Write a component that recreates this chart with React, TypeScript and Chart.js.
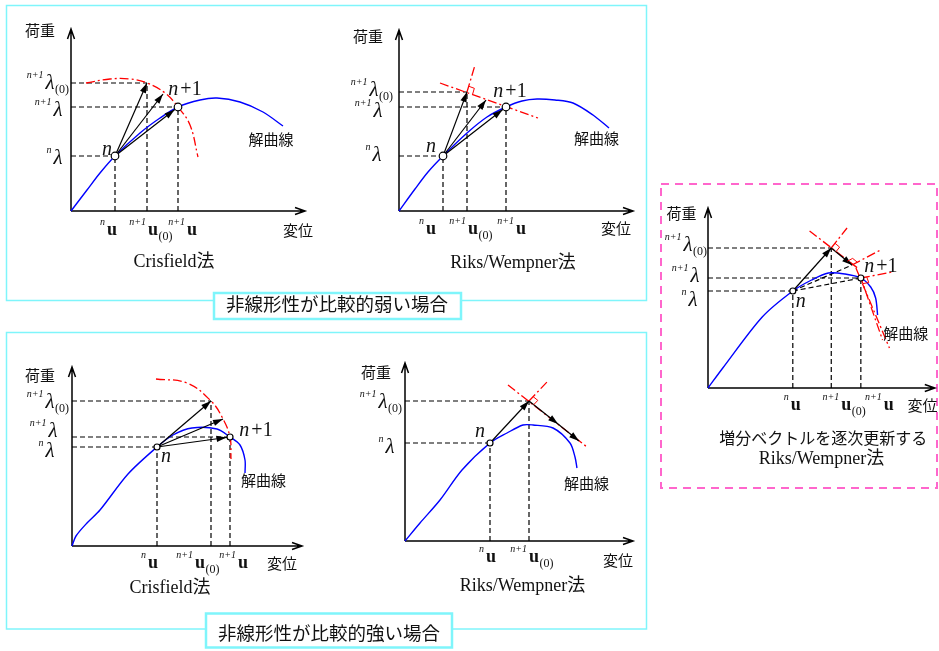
import { useEffect, useRef } from "react";
import { Chart, registerables } from "chart.js";

Chart.register(...registerables);

type P = [number, number];

const PAGE_W = 939;
const PAGE_H = 651;

const SERIF = '"Liberation Serif", "Times New Roman", serif';
const GOTHIC = '"Noto Sans CJK JP", "Noto Sans", sans-serif';
const MIXED = '"Liberation Serif", "Noto Sans CJK JP", serif';

const BLUE = "#0000ff";
const RED = "#ff0000";
const CYAN = "#7ff5fb";
const PINK = "#ff66cc";
const INK = "#111111";

// ---- text ----
const axisNames = ["荷重", "変位"];
const curveName = "解曲線";
const caseNames = ["非線形性が比較的弱い場合", "非線形性が比較的強い場合"];
const methodNames = ["Crisfield法", "Riks/Wempner法"];
const updateNote = "増分ベクトルを逐次更新する";
const stepNames = ["n", "n+1"];

// tick symbols: [superscript, symbol, subscript], ordered n, predictor, n+1
const uTicks = [
  ["n", "u", ""],
  ["n+1", "u", "(0)"],
  ["n+1", "u", ""],
];
const lambdaTicks = [
  ["n", "λ", ""],
  ["n+1", "λ", "(0)"],
  ["n+1", "λ", ""],
];

// ---- weak nonlinearity, Crisfield (arc-length circle) ----
const weakCrisCurve: P[] = [[0, 0], [1.6, 2.1], [2.9, 3.8], [4.4, 5.5], [6.9, 7.8], [8.9, 9.3], [10.7, 10.4], [12.9, 11.1], [14.6, 11.3], [16.9, 10.9], [19.2, 9.9], [21.2, 8.5]];
const weakCrisArc: P[] = [[1.5, 12.8], [3.9, 13.2], [5.9, 13.2], [7.6, 12.8], [9.4, 11.8], [10.7, 10.4], [11.9, 8.6], [12.7, 5.4]];
const weakCrisSteps: P[] = [[4.4, 5.5], [10.7, 10.4]];
const weakCrisPredictor: P = [7.6, 12.8];
const weakCrisTrials: P[] = [[7.6, 12.8], [9.2, 11.7], [10.7, 10.4]];

// ---- weak nonlinearity, Riks/Wempner (normal plane) ----
const weakRiksCurve: P[] = [[0, 0], [1.6, 2.2], [2.9, 3.9], [4.4, 5.5], [6.8, 7.8], [8.8, 9.4], [10.7, 10.4], [12.3, 11.0], [13.8, 11.2], [15.6, 11.1], [17.4, 10.8], [19.4, 9.6], [21.0, 8.3]];
const weakRiksSteps: P[] = [[4.4, 5.5], [10.7, 10.4]];
const weakRiksPredictor: P = [6.8, 11.9];
const weakRiksTrials: P[] = [[6.8, 11.9], [8.7, 11.1], [10.7, 10.4]];
const weakRiksPlane: P[] = [[4.1, 12.8], [13.9, 9.3]];
const weakRiksTangent: P[] = [[6.8, 11.9], [7.6, 14.6]];

// ---- strong nonlinearity, Crisfield ----
const strongCrisCurve: P[] = [[0, 0], [0.4, 1.0], [1.5, 2.3], [2.8, 3.6], [5.6, 7.2], [8.5, 9.9], [10.1, 11.1], [12.0, 11.8], [14.5, 11.7], [15.8, 10.9], [16.8, 10.1], [17.3, 8.6], [17.3, 7.3]];
const strongCrisArc: P[] = [[8.4, 16.7], [11.5, 16.3], [13.9, 14.5], [15.0, 12.9], [15.8, 10.9], [15.9, 8.7]];
const strongCrisSteps: P[] = [[8.5, 9.9], [15.8, 10.9]];
const strongCrisPredictor: P = [13.9, 14.5];
const strongCrisTrials: P[] = [[13.9, 14.5], [15.1, 12.7], [15.8, 10.9]];

// ---- strong nonlinearity, Riks/Wempner (diverging) ----
const strongRiksCurve: P[] = [[0, 0], [1.5, 1.8], [3.5, 4.1], [5.7, 7.1], [8.5, 9.8], [10.2, 10.8], [11.8, 11.6], [12.8, 11.6], [14.8, 11.3], [16.5, 9.8], [17.0, 8.4], [17.2, 7.3]];
const strongRiksSteps: P[] = [[8.5, 9.8]];
const strongRiksPredictor: P = [12.4, 14.0];
const strongRiksCorrectors: P[] = [[15.3, 11.7], [17.4, 10.0]];
const strongRiksPlane: P[] = [[10.3, 15.6], [18.2, 9.4]];
const strongRiksTangent: P[] = [[12.4, 14.0], [14.2, 15.9]];

// ---- Riks/Wempner with updated increment vector ----
const incrCurve: P[] = [[0, 0], [1.5, 2.0], [5.5, 7.1], [8.6, 9.7], [10.5, 10.8], [12.2, 11.5], [13.9, 11.4], [15.5, 11.0], [16.5, 10.1], [17.0, 9.0], [17.2, 7.3]];
const incrSteps: P[] = [[8.6, 9.7], [15.5, 11.0]];
const incrPredictor: P = [12.5, 14.0];
const incrCorrector: P = [14.6, 12.3];
const incrPlanes: P[][] = [
  [[10.3, 15.7], [15.3, 11.9]],
  [[12.5, 14.0], [14.1, 16.0]],
  [[14.6, 12.3], [17.5, 13.8]],
  [[15.5, 11.0], [18.7, 11.6]],
  [[15.0, 12.0], [18.4, 4.0]],
  [[15.4, 11.3], [17.7, 4.8]],
];

type Spec = {
  area: { left: number; top: number; width: number; height: number };
  xMax: number;
  yMax: number;
  curve: P[];
  redCurves: P[][];
  redLines: P[][];
  nodes: P[];
  nodeRadius: number;
  arrows: { from: P; to: P; inset: number }[];
  guides: P[];
  dashed: P[][];
  rightAngles: { at: P; a: P; b: P }[];
  xTickDx: number[];
  xTickDy: number;
  yTickDx: number[];
  yTickDy: number[];
  nodeLabelOffsets: P[];
  texts: { t: string; x: number; y: number; font: string }[];
};

const F_CJK = `15px ${GOTHIC}`;
const F_TITLE = `18px ${MIXED}`;
const F_NOTE = `16px ${GOTHIC}`;

const fanFrom = (start: P, ends: P[], inset: number) =>
  ends.map((to, i) => ({ from: start, to, inset: i === ends.length - 1 ? inset : 0 }));

const PANELS: Spec[] = [
  {
    area: { left: 71, top: 29, width: 234, height: 182 },
    xMax: 23.4,
    yMax: 18.2,
    curve: weakCrisCurve,
    redCurves: [weakCrisArc],
    redLines: [],
    nodes: weakCrisSteps,
    nodeRadius: 3.8,
    arrows: fanFrom(weakCrisSteps[0], weakCrisTrials, 4.5),
    guides: [weakCrisSteps[0], weakCrisPredictor, weakCrisSteps[1]],
    dashed: [],
    rightAngles: [],
    xTickDx: [-3, 6, 14],
    xTickDy: 19,
    yTickDx: [-13, -21, -13],
    yTickDy: [2, 0, 3],
    nodeLabelOffsets: [[-8, -6], [7, -17]],
    texts: [
      { t: axisNames[0], x: -3.1, y: 18.1, font: F_CJK },
      { t: axisNames[1], x: 22.7, y: -1.9, font: F_CJK },
      { t: curveName, x: 20.0, y: 7.2, font: F_CJK },
      { t: methodNames[0], x: 10.3, y: -5.1, font: F_TITLE },
    ],
  },
  {
    area: { left: 399, top: 30, width: 234, height: 181 },
    xMax: 23.4,
    yMax: 18.1,
    curve: weakRiksCurve,
    redCurves: [],
    redLines: [weakRiksPlane, weakRiksTangent],
    nodes: weakRiksSteps,
    nodeRadius: 3.8,
    arrows: fanFrom(weakRiksSteps[0], weakRiksTrials, 4.5),
    guides: [weakRiksSteps[0], weakRiksPredictor, weakRiksSteps[1]],
    dashed: [],
    rightAngles: [{ at: weakRiksPredictor, a: weakRiksPlane[1], b: weakRiksTangent[1] }],
    xTickDx: [-12, 6, 15],
    xTickDy: 18,
    yTickDx: [-22, -25, -21],
    yTickDy: [-1, -2, 4],
    nodeLabelOffsets: [[-12, -9], [4, -15]],
    texts: [
      { t: axisNames[0], x: -3.1, y: 17.5, font: F_CJK },
      { t: axisNames[1], x: 21.7, y: -1.7, font: F_CJK },
      { t: curveName, x: 19.75, y: 7.3, font: F_CJK },
      { t: methodNames[1], x: 11.4, y: -5.2, font: F_TITLE },
    ],
  },
  {
    area: { left: 72, top: 367, width: 230, height: 179 },
    xMax: 23.0,
    yMax: 17.9,
    curve: strongCrisCurve,
    redCurves: [strongCrisArc],
    redLines: [],
    nodes: strongCrisSteps,
    nodeRadius: 3,
    arrows: fanFrom(strongCrisSteps[0], strongCrisTrials, 3.5),
    guides: [strongCrisSteps[0], strongCrisPredictor, strongCrisSteps[1]],
    dashed: [],
    rightAngles: [],
    xTickDx: [-4, -11, 13],
    xTickDy: 17,
    yTickDx: [-22, -22, -19],
    yTickDy: [4, 1, -6],
    nodeLabelOffsets: [[9, 10], [26, -6]],
    texts: [
      { t: axisNames[0], x: -3.2, y: 17.1, font: F_CJK },
      { t: axisNames[1], x: 21.0, y: -1.7, font: F_CJK },
      { t: curveName, x: 19.15, y: 6.6, font: F_CJK },
      { t: methodNames[0], x: 9.8, y: -4.2, font: F_TITLE },
    ],
  },
  {
    area: { left: 405, top: 363, width: 228, height: 178 },
    xMax: 22.8,
    yMax: 17.8,
    curve: strongRiksCurve,
    redCurves: [],
    redLines: [strongRiksPlane, strongRiksTangent],
    nodes: strongRiksSteps,
    nodeRadius: 3,
    arrows: [
      { from: strongRiksSteps[0], to: strongRiksPredictor, inset: 0 },
      { from: strongRiksPredictor, to: strongRiksCorrectors[0], inset: 0 },
      { from: strongRiksCorrectors[0], to: strongRiksCorrectors[1], inset: 0 },
    ],
    guides: [strongRiksSteps[0], strongRiksPredictor],
    dashed: [],
    rightAngles: [{ at: strongRiksPredictor, a: strongRiksTangent[1], b: strongRiksCorrectors[0] }],
    xTickDx: [1, 5],
    xTickDy: 16,
    yTickDx: [-15, -22],
    yTickDy: [4, 1],
    nodeLabelOffsets: [[-10, -11]],
    texts: [
      { t: axisNames[0], x: -2.9, y: 16.9, font: F_CJK },
      { t: axisNames[1], x: 21.3, y: -1.9, font: F_CJK },
      { t: curveName, x: 18.15, y: 5.8, font: F_CJK },
      { t: methodNames[1], x: 11.75, y: -4.5, font: F_TITLE },
    ],
  },
  {
    area: { left: 708, top: 208, width: 230, height: 180 },
    xMax: 23.0,
    yMax: 18.0,
    curve: incrCurve,
    redCurves: [],
    redLines: incrPlanes,
    nodes: incrSteps,
    nodeRadius: 3,
    arrows: [
      { from: incrSteps[0], to: incrPredictor, inset: 0 },
      { from: incrPredictor, to: incrCorrector, inset: 0 },
    ],
    guides: [incrSteps[0], incrPredictor, incrSteps[1]],
    dashed: [
      [incrSteps[0], incrCorrector],
      [incrSteps[0], incrSteps[1]],
    ],
    rightAngles: [
      { at: incrPredictor, a: incrPlanes[1][1], b: incrCorrector },
      { at: incrCorrector, a: incrPlanes[2][1], b: incrPredictor },
      { at: incrSteps[1], a: incrPlanes[3][1], b: incrPlanes[5][1] },
    ],
    xTickDx: [3, 15, 28],
    xTickDy: 17,
    yTickDx: [-15, -20, -13],
    yTickDy: [9, -3, -2],
    nodeLabelOffsets: [[8, 11], [20, -11]],
    texts: [
      { t: axisNames[0], x: -2.7, y: 17.5, font: F_CJK },
      { t: axisNames[1], x: 21.75, y: -1.7, font: F_CJK },
      { t: curveName, x: 20.05, y: 5.5, font: F_CJK },
      { t: updateNote, x: 11.7, y: -5.0, font: F_NOTE },
      { t: methodNames[1], x: 11.5, y: -7.1, font: F_TITLE },
    ],
  },
];

// outer frames and case tags (page pixels)
const frameLayout = {
  panels: [
    { x: 6.5, y: 5.5, w: 640, h: 295 },
    { x: 6.5, y: 332.5, w: 640, h: 296.5 },
  ],
  tags: [
    { x: 214, y: 293, w: 247, h: 26, cx: 337, cy: 304 },
    { x: 206, y: 613.5, w: 246, h: 34, cx: 329, cy: 633 },
  ],
  dashed: { x: 661, y: 184, w: 276, h: 304 },
};

const xy = ([x, y]: P) => ({ x, y });

const lineSet = (pts: P[], color: string, width: number, dash: number[], tension = 0) => ({
  data: pts.map(xy),
  showLine: true,
  borderColor: color,
  borderWidth: width,
  borderDash: dash,
  tension,
  pointRadius: 0,
  pointHoverRadius: 0,
  fill: false,
  clip: false,
});

function drawSymbol(ctx: CanvasRenderingContext2D, cx: number, cy: number, parts: string[], mainFont: string) {
  const [pre, main, sub] = parts;
  ctx.font = mainFont;
  const half = ctx.measureText(main).width / 2;
  ctx.textAlign = "center";
  ctx.textBaseline = "middle";
  ctx.fillText(main, cx, cy);
  if (pre) {
    ctx.font = `italic 10px ${SERIF}`;
    ctx.textAlign = "right";
    ctx.fillText(pre, cx - half - 2, cy - 8);
  }
  if (sub) {
    ctx.font = `12px ${SERIF}`;
    ctx.textAlign = "left";
    ctx.fillText(sub, cx + half + 0.5, cy + 7);
  }
}

function drawStep(ctx: CanvasRenderingContext2D, cx: number, cy: number, name: string) {
  ctx.textBaseline = "middle";
  ctx.textAlign = "left";
  const italic = `italic 20px ${SERIF}`;
  const upright = `20px ${SERIF}`;
  const head = name.charAt(0);
  const tail = name.slice(1);
  ctx.font = italic;
  const wn = ctx.measureText(head).width;
  ctx.font = upright;
  const wt = tail ? ctx.measureText(tail).width + 2 : 0;
  const start = cx - (wn + wt) / 2;
  ctx.font = italic;
  ctx.fillText(head, start, cy);
  if (tail) {
    ctx.font = upright;
    ctx.fillText(tail, start + wn + 2, cy);
  }
}

const framesPlugin = {
  id: "frames",
  beforeDraw(chart: any) {
    const ctx: CanvasRenderingContext2D = chart.ctx;
    ctx.save();
    ctx.strokeStyle = CYAN;
    ctx.lineWidth = 1.5;
    frameLayout.panels.forEach((b) => ctx.strokeRect(b.x, b.y, b.w, b.h));
    frameLayout.tags.forEach((b, i) => {
      ctx.fillStyle = "#ffffff";
      ctx.fillRect(b.x, b.y, b.w, b.h);
      ctx.lineWidth = 2.5;
      ctx.strokeRect(b.x, b.y, b.w, b.h);
      ctx.fillStyle = INK;
      ctx.font = `18.5px ${GOTHIC}`;
      ctx.textAlign = "center";
      ctx.textBaseline = "middle";
      ctx.fillText(caseNames[i], b.cx, b.cy);
    });
    const d = frameLayout.dashed;
    ctx.strokeStyle = PINK;
    ctx.lineWidth = 2;
    ctx.setLineDash([8, 6]);
    ctx.strokeRect(d.x, d.y, d.w, d.h);
    ctx.restore();
  },
};

const diagramPlugin = (spec: Spec) => ({
  id: "diagram",
  beforeDatasetsDraw(chart: any) {
    const ctx: CanvasRenderingContext2D = chart.ctx;
    const { x, y } = chart.scales;
    const x0 = x.getPixelForValue(0);
    const y0 = y.getPixelForValue(0);
    const xt = x.getPixelForValue(spec.xMax);
    const yt = y.getPixelForValue(spec.yMax);
    ctx.save();
    ctx.strokeStyle = "#000";
    ctx.lineWidth = 1.5;
    ctx.beginPath();
    ctx.moveTo(x0, y0);
    ctx.lineTo(x0, yt);
    ctx.moveTo(x0, y0);
    ctx.lineTo(xt, y0);
    ctx.moveTo(x0 - 3.5, yt + 10);
    ctx.lineTo(x0, yt);
    ctx.lineTo(x0 + 3.5, yt + 10);
    ctx.moveTo(xt - 10, y0 - 3.5);
    ctx.lineTo(xt, y0);
    ctx.lineTo(xt - 10, y0 + 3.5);
    ctx.stroke();
    ctx.restore();
  },
  afterDatasetsDraw(chart: any) {
    const ctx: CanvasRenderingContext2D = chart.ctx;
    const { x, y } = chart.scales;
    const px = (p: P) => [x.getPixelForValue(p[0]), y.getPixelForValue(p[1])];
    const x0 = x.getPixelForValue(0);
    const y0 = y.getPixelForValue(0);
    ctx.save();

    // arrowheads
    chart.data.datasets.forEach((ds: any, i: number) => {
      if (ds.arrowInset === undefined) return;
      const pts = chart.getDatasetMeta(i).data;
      const a = pts[0];
      const b = pts[1];
      const dx = b.x - a.x;
      const dy = b.y - a.y;
      const len = Math.hypot(dx, dy);
      const ux = dx / len;
      const uy = dy / len;
      const tx = b.x - ux * ds.arrowInset;
      const ty = b.y - uy * ds.arrowInset;
      const L = 10;
      const W = 3.2;
      ctx.fillStyle = "#000";
      ctx.beginPath();
      ctx.moveTo(tx, ty);
      ctx.lineTo(tx - ux * L - uy * W, ty - uy * L + ux * W);
      ctx.lineTo(tx - ux * L + uy * W, ty - uy * L - ux * W);
      ctx.closePath();
      ctx.fill();
    });

    // right-angle marks
    ctx.strokeStyle = RED;
    ctx.lineWidth = 1;
    spec.rightAngles.forEach(({ at, a, b }) => {
      const [cx, cy] = px(at);
      const [ax, ay] = px(a);
      const [bx, by] = px(b);
      const la = Math.hypot(ax - cx, ay - cy);
      const lb = Math.hypot(bx - cx, by - cy);
      const s = 6;
      const ua = [((ax - cx) / la) * s, ((ay - cy) / la) * s];
      const ub = [((bx - cx) / lb) * s, ((by - cy) / lb) * s];
      ctx.beginPath();
      ctx.moveTo(cx + ua[0], cy + ua[1]);
      ctx.lineTo(cx + ua[0] + ub[0], cy + ua[1] + ub[1]);
      ctx.lineTo(cx + ub[0], cy + ub[1]);
      ctx.stroke();
    });

    ctx.fillStyle = INK;
    // tick symbols
    spec.guides.forEach((g, k) => {
      drawSymbol(ctx, x.getPixelForValue(g[0]) + spec.xTickDx[k], y0 + spec.xTickDy, uTicks[k], `bold 18px ${SERIF}`);
      drawSymbol(ctx, x0 + spec.yTickDx[k], y.getPixelForValue(g[1]) + spec.yTickDy[k], lambdaTicks[k], `italic 21px ${SERIF}`);
    });

    // step labels
    spec.nodes.forEach((nd, k) => {
      const [nx, ny] = px(nd);
      const off = spec.nodeLabelOffsets[k];
      drawStep(ctx, nx + off[0], ny + off[1], stepNames[k]);
    });

    // captions
    spec.texts.forEach((t) => {
      ctx.font = t.font;
      ctx.textAlign = "center";
      ctx.textBaseline = "middle";
      ctx.fillText(t.t, x.getPixelForValue(t.x), y.getPixelForValue(t.y));
    });
    ctx.restore();
  },
});

function buildConfig(spec: Spec, withFrames: boolean): any {
  const datasets: any[] = [];
  datasets.push({
    data: spec.nodes.map(xy),
    showLine: false,
    pointRadius: spec.nodeRadius,
    pointHoverRadius: spec.nodeRadius,
    pointBackgroundColor: "#ffffff",
    pointBorderColor: "#000000",
    pointBorderWidth: 1.2,
    clip: false,
  });
  spec.arrows.forEach((a) => {
    datasets.push({ ...lineSet([a.from, a.to], "#000000", 1.2, []), arrowInset: a.inset });
  });
  datasets.push(lineSet(spec.curve, BLUE, 1.4, [], 0.3));
  spec.redCurves.forEach((c) => datasets.push(lineSet(c, RED, 1.3, [9, 3, 2, 3], 0.4)));
  spec.redLines.forEach((c) => datasets.push(lineSet(c, RED, 1.3, [9, 3, 2, 3])));
  spec.dashed.forEach((c) => datasets.push(lineSet(c, "#000000", 1.2, [5, 3])));
  spec.guides.forEach(([gx, gy]) => {
    datasets.push(lineSet([[0, gy], [gx, gy]], "#000000", 1.2, [5, 3]));
    datasets.push(lineSet([[gx, 0], [gx, gy]], "#000000", 1.2, [5, 3]));
  });

  const { left, top, width, height } = spec.area;
  return {
    type: "scatter",
    data: { datasets },
    options: {
      responsive: false,
      maintainAspectRatio: false,
      animation: false,
      devicePixelRatio: 1,
      events: [],
      layout: {
        padding: { left, top, right: PAGE_W - left - width, bottom: PAGE_H - top - height },
      },
      scales: {
        x: { type: "linear", min: 0, max: spec.xMax, display: false },
        y: { type: "linear", min: 0, max: spec.yMax, display: false },
      },
      plugins: {
        legend: { display: false },
        tooltip: { enabled: false },
        title: { display: false },
      },
    },
    plugins: withFrames ? [framesPlugin, diagramPlugin(spec)] : [diagramPlugin(spec)],
  };
}

export default function App() {
  const refs = useRef<(HTMLCanvasElement | null)[]>([]);

  useEffect(() => {
    const charts = PANELS.map((spec, i) => new Chart(refs.current[i] as HTMLCanvasElement, buildConfig(spec, i === 0)));
    return () => charts.forEach((c) => c.destroy());
  }, []);

  return (
    <div
      style={{
        position: "absolute",
        left: 0,
        top: 0,
        width: PAGE_W,
        height: PAGE_H,
        background: "#ffffff",
        overflow: "hidden",
      }}
    >
      {PANELS.map((_, i) => (
        <canvas
          key={i}
          ref={(el) => {
            refs.current[i] = el;
          }}
          width={PAGE_W}
          height={PAGE_H}
          style={{ position: "absolute", left: 0, top: 0, width: PAGE_W, height: PAGE_H }}
        />
      ))}
    </div>
  );
}
